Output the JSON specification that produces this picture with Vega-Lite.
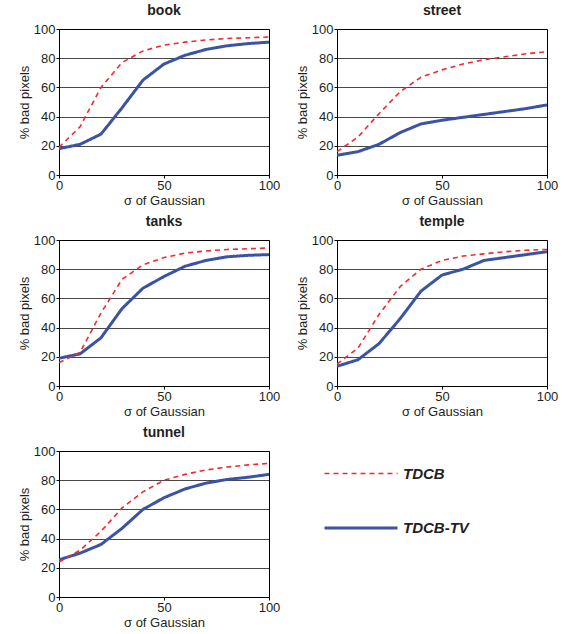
{
  "$schema": "https://vega.github.io/schema/vega-lite/v6.json",
  "padding": {"left": 17, "top": 3, "right": 5, "bottom": 2},
  "background": "white",
  "datasets": {
    "curves": [
      {"scene":"book","method":"TDCB-TV","sigma":0,"pct":18},
      {"scene":"book","method":"TDCB-TV","sigma":10,"pct":21},
      {"scene":"book","method":"TDCB-TV","sigma":20,"pct":28},
      {"scene":"book","method":"TDCB-TV","sigma":30,"pct":46},
      {"scene":"book","method":"TDCB-TV","sigma":40,"pct":65},
      {"scene":"book","method":"TDCB-TV","sigma":50,"pct":76},
      {"scene":"book","method":"TDCB-TV","sigma":60,"pct":82},
      {"scene":"book","method":"TDCB-TV","sigma":70,"pct":86},
      {"scene":"book","method":"TDCB-TV","sigma":80,"pct":88.5},
      {"scene":"book","method":"TDCB-TV","sigma":90,"pct":90},
      {"scene":"book","method":"TDCB-TV","sigma":100,"pct":91},
      {"scene":"book","method":"TDCB","sigma":0,"pct":19},
      {"scene":"book","method":"TDCB","sigma":10,"pct":33},
      {"scene":"book","method":"TDCB","sigma":20,"pct":60},
      {"scene":"book","method":"TDCB","sigma":30,"pct":77},
      {"scene":"book","method":"TDCB","sigma":40,"pct":85},
      {"scene":"book","method":"TDCB","sigma":50,"pct":89},
      {"scene":"book","method":"TDCB","sigma":60,"pct":91},
      {"scene":"book","method":"TDCB","sigma":70,"pct":92.5},
      {"scene":"book","method":"TDCB","sigma":80,"pct":93.5},
      {"scene":"book","method":"TDCB","sigma":90,"pct":94},
      {"scene":"book","method":"TDCB","sigma":100,"pct":94.5},

      {"scene":"street","method":"TDCB-TV","sigma":0,"pct":13.5},
      {"scene":"street","method":"TDCB-TV","sigma":10,"pct":16},
      {"scene":"street","method":"TDCB-TV","sigma":20,"pct":21},
      {"scene":"street","method":"TDCB-TV","sigma":30,"pct":29},
      {"scene":"street","method":"TDCB-TV","sigma":40,"pct":35},
      {"scene":"street","method":"TDCB-TV","sigma":50,"pct":37.5},
      {"scene":"street","method":"TDCB-TV","sigma":60,"pct":39.5},
      {"scene":"street","method":"TDCB-TV","sigma":70,"pct":41.5},
      {"scene":"street","method":"TDCB-TV","sigma":80,"pct":43.5},
      {"scene":"street","method":"TDCB-TV","sigma":90,"pct":45.5},
      {"scene":"street","method":"TDCB-TV","sigma":100,"pct":48},
      {"scene":"street","method":"TDCB","sigma":0,"pct":16},
      {"scene":"street","method":"TDCB","sigma":10,"pct":26},
      {"scene":"street","method":"TDCB","sigma":20,"pct":42},
      {"scene":"street","method":"TDCB","sigma":30,"pct":57},
      {"scene":"street","method":"TDCB","sigma":40,"pct":67},
      {"scene":"street","method":"TDCB","sigma":50,"pct":72},
      {"scene":"street","method":"TDCB","sigma":60,"pct":76},
      {"scene":"street","method":"TDCB","sigma":70,"pct":79},
      {"scene":"street","method":"TDCB","sigma":80,"pct":81},
      {"scene":"street","method":"TDCB","sigma":90,"pct":83},
      {"scene":"street","method":"TDCB","sigma":100,"pct":84.5},

      {"scene":"tanks","method":"TDCB-TV","sigma":0,"pct":19},
      {"scene":"tanks","method":"TDCB-TV","sigma":10,"pct":22},
      {"scene":"tanks","method":"TDCB-TV","sigma":20,"pct":33},
      {"scene":"tanks","method":"TDCB-TV","sigma":30,"pct":53},
      {"scene":"tanks","method":"TDCB-TV","sigma":40,"pct":67},
      {"scene":"tanks","method":"TDCB-TV","sigma":50,"pct":75},
      {"scene":"tanks","method":"TDCB-TV","sigma":60,"pct":82},
      {"scene":"tanks","method":"TDCB-TV","sigma":70,"pct":86},
      {"scene":"tanks","method":"TDCB-TV","sigma":80,"pct":88.5},
      {"scene":"tanks","method":"TDCB-TV","sigma":90,"pct":89.5},
      {"scene":"tanks","method":"TDCB-TV","sigma":100,"pct":90},
      {"scene":"tanks","method":"TDCB","sigma":0,"pct":16},
      {"scene":"tanks","method":"TDCB","sigma":10,"pct":23},
      {"scene":"tanks","method":"TDCB","sigma":20,"pct":50},
      {"scene":"tanks","method":"TDCB","sigma":30,"pct":73},
      {"scene":"tanks","method":"TDCB","sigma":40,"pct":83},
      {"scene":"tanks","method":"TDCB","sigma":50,"pct":88},
      {"scene":"tanks","method":"TDCB","sigma":60,"pct":91},
      {"scene":"tanks","method":"TDCB","sigma":70,"pct":92.5},
      {"scene":"tanks","method":"TDCB","sigma":80,"pct":93.5},
      {"scene":"tanks","method":"TDCB","sigma":90,"pct":94},
      {"scene":"tanks","method":"TDCB","sigma":100,"pct":94.5},

      {"scene":"temple","method":"TDCB-TV","sigma":0,"pct":13.5},
      {"scene":"temple","method":"TDCB-TV","sigma":10,"pct":18},
      {"scene":"temple","method":"TDCB-TV","sigma":20,"pct":29},
      {"scene":"temple","method":"TDCB-TV","sigma":30,"pct":46},
      {"scene":"temple","method":"TDCB-TV","sigma":40,"pct":65},
      {"scene":"temple","method":"TDCB-TV","sigma":50,"pct":76},
      {"scene":"temple","method":"TDCB-TV","sigma":60,"pct":80},
      {"scene":"temple","method":"TDCB-TV","sigma":70,"pct":86},
      {"scene":"temple","method":"TDCB-TV","sigma":80,"pct":88},
      {"scene":"temple","method":"TDCB-TV","sigma":90,"pct":90},
      {"scene":"temple","method":"TDCB-TV","sigma":100,"pct":92},
      {"scene":"temple","method":"TDCB","sigma":0,"pct":15},
      {"scene":"temple","method":"TDCB","sigma":10,"pct":26},
      {"scene":"temple","method":"TDCB","sigma":20,"pct":49},
      {"scene":"temple","method":"TDCB","sigma":30,"pct":68},
      {"scene":"temple","method":"TDCB","sigma":40,"pct":80},
      {"scene":"temple","method":"TDCB","sigma":50,"pct":86},
      {"scene":"temple","method":"TDCB","sigma":60,"pct":89},
      {"scene":"temple","method":"TDCB","sigma":70,"pct":90.5},
      {"scene":"temple","method":"TDCB","sigma":80,"pct":92},
      {"scene":"temple","method":"TDCB","sigma":90,"pct":93},
      {"scene":"temple","method":"TDCB","sigma":100,"pct":93.5},

      {"scene":"tunnel","method":"TDCB-TV","sigma":0,"pct":25.5},
      {"scene":"tunnel","method":"TDCB-TV","sigma":10,"pct":30},
      {"scene":"tunnel","method":"TDCB-TV","sigma":20,"pct":36},
      {"scene":"tunnel","method":"TDCB-TV","sigma":30,"pct":47},
      {"scene":"tunnel","method":"TDCB-TV","sigma":40,"pct":60},
      {"scene":"tunnel","method":"TDCB-TV","sigma":50,"pct":68},
      {"scene":"tunnel","method":"TDCB-TV","sigma":60,"pct":74},
      {"scene":"tunnel","method":"TDCB-TV","sigma":70,"pct":78},
      {"scene":"tunnel","method":"TDCB-TV","sigma":80,"pct":80.5},
      {"scene":"tunnel","method":"TDCB-TV","sigma":90,"pct":82},
      {"scene":"tunnel","method":"TDCB-TV","sigma":100,"pct":84},
      {"scene":"tunnel","method":"TDCB","sigma":0,"pct":24},
      {"scene":"tunnel","method":"TDCB","sigma":10,"pct":32},
      {"scene":"tunnel","method":"TDCB","sigma":20,"pct":45},
      {"scene":"tunnel","method":"TDCB","sigma":30,"pct":61},
      {"scene":"tunnel","method":"TDCB","sigma":40,"pct":72},
      {"scene":"tunnel","method":"TDCB","sigma":50,"pct":80},
      {"scene":"tunnel","method":"TDCB","sigma":60,"pct":84},
      {"scene":"tunnel","method":"TDCB","sigma":70,"pct":87},
      {"scene":"tunnel","method":"TDCB","sigma":80,"pct":89},
      {"scene":"tunnel","method":"TDCB","sigma":90,"pct":90.5},
      {"scene":"tunnel","method":"TDCB","sigma":100,"pct":91.5}
    ]
  },
  "data": {"name": "curves"},
  "columns": 2,
  "spacing": {"row": 6, "column": 14},
  "concat": [
    {"title": "book", "width": 210, "height": 146, "transform": [{"filter": "datum.scene === 'book'"}],
     "mark": {"type": "line", "clip": true},
     "encoding": {
       "x": {"field": "sigma", "type": "quantitative", "scale": {"domain": [0, 100]}, "axis": {"values": [0, 50, 100], "title": "σ of Gaussian"}},
       "y": {"field": "pct", "type": "quantitative", "scale": {"domain": [0, 100]}, "axis": {"values": [0, 20, 40, 60, 80, 100], "title": "% bad pixels"}},
       "color": {"field": "method", "type": "nominal", "scale": {"domain": ["TDCB", "TDCB-TV"], "range": ["#ee2a2f", "#3b53a3"]}, "legend": {"title": null}},
       "strokeDash": {"field": "method", "type": "nominal", "scale": {"domain": ["TDCB", "TDCB-TV"], "range": [[5, 4], [1, 0]]}, "legend": {"title": null}},
       "strokeWidth": {"field": "method", "type": "nominal", "scale": {"domain": ["TDCB", "TDCB-TV"], "range": [1.6, 3]}, "legend": {"title": null}}
     }},
    {"title": "street", "width": 210, "height": 146, "transform": [{"filter": "datum.scene === 'street'"}],
     "mark": {"type": "line", "clip": true},
     "encoding": {
       "x": {"field": "sigma", "type": "quantitative", "scale": {"domain": [0, 100]}, "axis": {"values": [0, 50, 100], "title": "σ of Gaussian"}},
       "y": {"field": "pct", "type": "quantitative", "scale": {"domain": [0, 100]}, "axis": {"values": [0, 20, 40, 60, 80, 100], "title": "% bad pixels"}},
       "color": {"field": "method", "type": "nominal", "scale": {"domain": ["TDCB", "TDCB-TV"], "range": ["#ee2a2f", "#3b53a3"]}, "legend": {"title": null}},
       "strokeDash": {"field": "method", "type": "nominal", "scale": {"domain": ["TDCB", "TDCB-TV"], "range": [[5, 4], [1, 0]]}, "legend": {"title": null}},
       "strokeWidth": {"field": "method", "type": "nominal", "scale": {"domain": ["TDCB", "TDCB-TV"], "range": [1.6, 3]}, "legend": {"title": null}}
     }},
    {"title": "tanks", "width": 210, "height": 146, "transform": [{"filter": "datum.scene === 'tanks'"}],
     "mark": {"type": "line", "clip": true},
     "encoding": {
       "x": {"field": "sigma", "type": "quantitative", "scale": {"domain": [0, 100]}, "axis": {"values": [0, 50, 100], "title": "σ of Gaussian"}},
       "y": {"field": "pct", "type": "quantitative", "scale": {"domain": [0, 100]}, "axis": {"values": [0, 20, 40, 60, 80, 100], "title": "% bad pixels"}},
       "color": {"field": "method", "type": "nominal", "scale": {"domain": ["TDCB", "TDCB-TV"], "range": ["#ee2a2f", "#3b53a3"]}, "legend": {"title": null}},
       "strokeDash": {"field": "method", "type": "nominal", "scale": {"domain": ["TDCB", "TDCB-TV"], "range": [[5, 4], [1, 0]]}, "legend": {"title": null}},
       "strokeWidth": {"field": "method", "type": "nominal", "scale": {"domain": ["TDCB", "TDCB-TV"], "range": [1.6, 3]}, "legend": {"title": null}}
     }},
    {"title": "temple", "width": 210, "height": 146, "transform": [{"filter": "datum.scene === 'temple'"}],
     "mark": {"type": "line", "clip": true},
     "encoding": {
       "x": {"field": "sigma", "type": "quantitative", "scale": {"domain": [0, 100]}, "axis": {"values": [0, 50, 100], "title": "σ of Gaussian"}},
       "y": {"field": "pct", "type": "quantitative", "scale": {"domain": [0, 100]}, "axis": {"values": [0, 20, 40, 60, 80, 100], "title": "% bad pixels"}},
       "color": {"field": "method", "type": "nominal", "scale": {"domain": ["TDCB", "TDCB-TV"], "range": ["#ee2a2f", "#3b53a3"]}, "legend": {"title": null}},
       "strokeDash": {"field": "method", "type": "nominal", "scale": {"domain": ["TDCB", "TDCB-TV"], "range": [[5, 4], [1, 0]]}, "legend": {"title": null}},
       "strokeWidth": {"field": "method", "type": "nominal", "scale": {"domain": ["TDCB", "TDCB-TV"], "range": [1.6, 3]}, "legend": {"title": null}}
     }},
    {"title": "tunnel", "width": 210, "height": 146, "transform": [{"filter": "datum.scene === 'tunnel'"}],
     "mark": {"type": "line", "clip": true},
     "encoding": {
       "x": {"field": "sigma", "type": "quantitative", "scale": {"domain": [0, 100]}, "axis": {"values": [0, 50, 100], "title": "σ of Gaussian"}},
       "y": {"field": "pct", "type": "quantitative", "scale": {"domain": [0, 100]}, "axis": {"values": [0, 20, 40, 60, 80, 100], "title": "% bad pixels"}},
       "color": {"field": "method", "type": "nominal", "scale": {"domain": ["TDCB", "TDCB-TV"], "range": ["#ee2a2f", "#3b53a3"]}, "legend": {"title": null}},
       "strokeDash": {"field": "method", "type": "nominal", "scale": {"domain": ["TDCB", "TDCB-TV"], "range": [[5, 4], [1, 0]]}, "legend": {"title": null}},
       "strokeWidth": {"field": "method", "type": "nominal", "scale": {"domain": ["TDCB", "TDCB-TV"], "range": [1.6, 3]}, "legend": {"title": null}}
     }}
  ],
  "config": {
    "font": "Liberation Sans",
    "view": {"stroke": "#000000", "strokeWidth": 1},
    "title": {"fontSize": 14, "fontWeight": "bold", "color": "#231f20", "offset": 5},
    "axis": {
      "labelFont": "Liberation Sans", "labelFontSize": 13, "labelColor": "#231f20",
      "titleFont": "Liberation Sans", "titleFontSize": 13, "titleFontWeight": "normal", "titleColor": "#231f20",
      "domainColor": "#000000", "tickColor": "#000000", "tickSize": 3,
      "labelPadding": 1, "titlePadding": 2
    },
    "axisX": {"grid": false, "labelFlush": false},
    "axisY": {"grid": true, "gridColor": "#000000", "gridOpacity": 0.9, "gridWidth": 0.8},
    "legend": {
      "orient": "none", "legendX": 264, "legendY": 407,
      "symbolType": "stroke", "symbolSize": 5329, "symbolStrokeWidth": 3,
      "labelFontSize": 15, "labelFontWeight": "bold", "labelFontStyle": "italic", "labelColor": "#231f20",
      "labelOffset": 4, "rowPadding": 8
    }
  }
}
